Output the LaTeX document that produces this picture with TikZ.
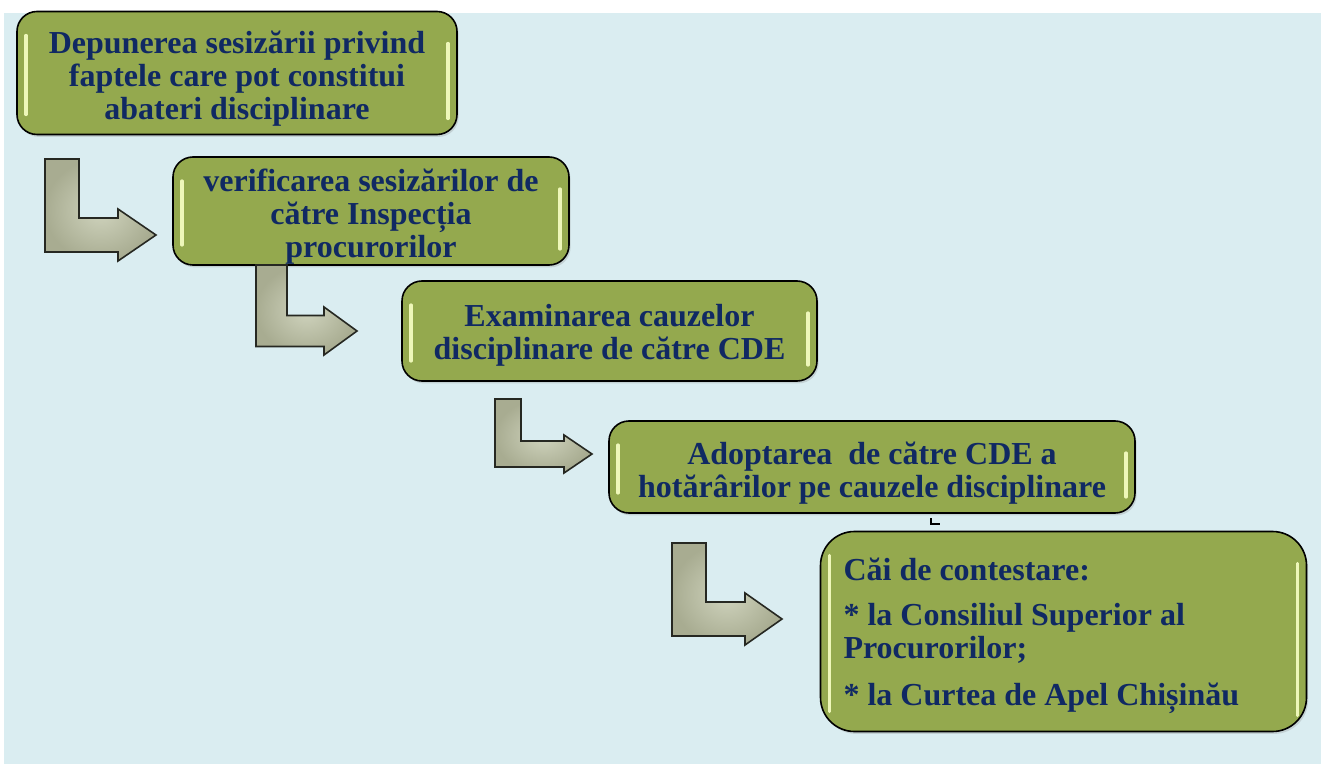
\documentclass[tikz,border=0pt]{standalone}
\usepackage{fontspec}
\setmainfont{Liberation Serif}
\usetikzlibrary{shadows}

\definecolor{bgblue}{RGB}{218,237,241}
\definecolor{boxgreen}{RGB}{148,169,78}
\definecolor{glossy}{RGB}{238,247,185}
\definecolor{textblue}{RGB}{16,41,99}
\definecolor{turnfill}{RGB}{208,212,190}
\definecolor{turnedge}{RGB}{168,172,145}
\definecolor{turnline}{RGB}{38,40,34}

% bent arrow: left x, top y, shaft width, head base x, tip x, tip y, head half height
\newcommand\bentarrow[7]{%
  \draw[turnarrow] (#1,#2) -- ({#1+#3},#2) -- ({#1+#3},{#6-#3/2}) -- (#4,{#6-#3/2})
    -- (#4,{#6-#7}) -- (#5,#6) -- (#4,{#6+#7}) -- (#4,{#6+#3/2}) -- (#1,{#6+#3/2}) -- cycle;}
\newcommand\lift{\rule{0pt}{17pt}}

\begin{document}
\begin{tikzpicture}[x=0.5pt,y=-0.5pt,
  stepbox/.style={draw=black, line width=0.8pt, fill=boxgreen, rounded corners=10pt,
    text=textblue, font=\fontsize{16}{16.5}\selectfont\bfseries, align=center, inner sep=0pt,
    drop shadow={shadow xshift=0.8pt, shadow yshift=-1.2pt, opacity=0.25},
    path picture={
      \draw[glossy, line width=1.6pt, line cap=round]
        ([xshift=4.5pt,yshift=-12pt]path picture bounding box.north west)
        -- ([xshift=4.5pt,yshift=10pt]path picture bounding box.south west);
      \draw[glossy, line width=1.6pt, line cap=round]
        ([xshift=-4.5pt,yshift=-16pt]path picture bounding box.north east)
        -- ([xshift=-4.5pt,yshift=8pt]path picture bounding box.south east);}},
  turnarrow/.style={draw=turnline, line width=0.8pt, inner color=turnfill, outer color=turnedge}]

  \useasboundingbox (0,0) rectangle (1321,764);
  \fill[bgblue] (4,13) rectangle (1321,764);

  \node[stepbox, minimum width=220pt, minimum height=61.5pt] (depunere) at (237,73)
    {\lift Depunerea sesizării privind\\faptele care pot constitui\\abateri disciplinare};
  \node[stepbox, minimum width=198pt, minimum height=54pt] (verificare) at (371,211)
    {\lift verificarea sesizărilor de\\către Inspecția\\procurorilor};
  \node[stepbox, minimum width=207.5pt, minimum height=50pt] (examinare) at (609.5,331)
    {\rule{0pt}{15.5pt}Examinarea cauzelor\\disciplinare de către CDE};
  \node[stepbox, minimum width=263pt, minimum height=46pt] (adoptare) at (872,467)
    {\lift Adoptarea\ \ de către CDE a\\hotărârilor pe cauzele disciplinare};
  \node[stepbox, rounded corners=17pt, align=flush left, text width=220pt, inner xsep=11.5pt,
    minimum height=100pt] (contestare) at (1063.5,631.5)
    {\rule{0pt}{16pt}Căi de contestare:\\[6pt]* la Consiliul Superior al\\Procurorilor;\\[7pt]* la Curtea de Apel Chișinău};

  \bentarrow{45}{159}{34}{118}{156}{235}{26}
  \bentarrow{256}{265}{31}{324}{357}{331}{24}
  \bentarrow{495}{399}{26}{564}{592}{454}{19}
  \bentarrow{672}{543}{34}{745}{782}{619}{26}

  \draw[black, line width=1.2pt] (931,518) |- (940,524);
\end{tikzpicture}
\end{document}
